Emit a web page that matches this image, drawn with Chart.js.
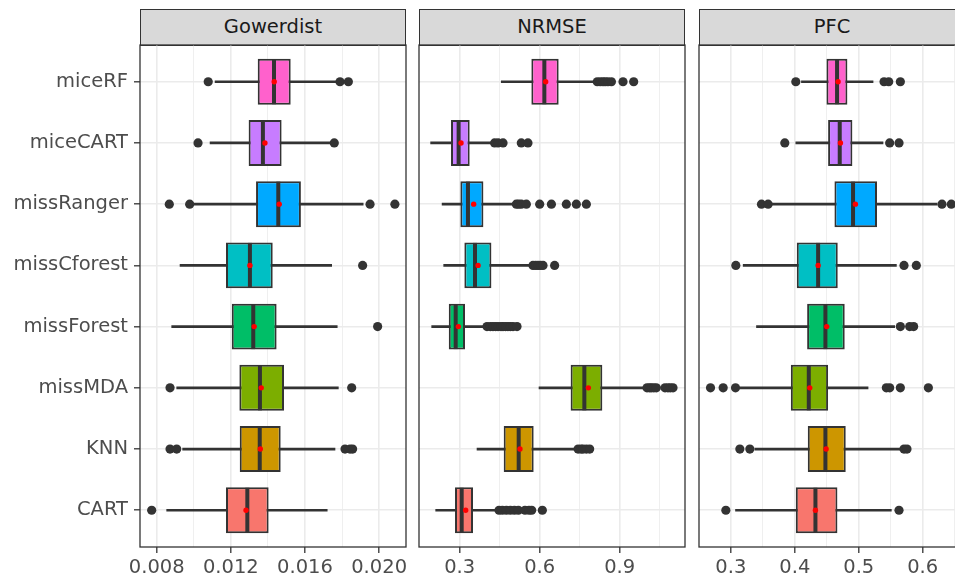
<!DOCTYPE html>
<html>
<head>
<meta charset="utf-8">
<script src="https://cdn.jsdelivr.net/npm/chart.js@4.4.0/dist/chart.umd.min.js"></script>
<style>
  html, body { margin: 0; padding: 0; width: 955px; height: 579px; overflow: hidden; background: #fff; }
  canvas { position: absolute; top: 0; }
  .strip { position: absolute; top: 9px; width: 266px; height: 37px; box-sizing: border-box;
           border: 1.3px solid #333; background: #d9d9d9; color: #1a1a1a;
           font: 19.5px "DejaVu Sans", sans-serif; text-align: center; line-height: 34px; }
</style>
</head>
<body>
<div class="strip" style="left:140px">Gowerdist</div>
<div class="strip" style="left:419px">NRMSE</div>
<div class="strip" style="left:699px">PFC</div>
<canvas id="c1" width="410" height="579" style="left:0px"></canvas>
<canvas id="c2" width="277" height="579" style="left:412px"></canvas>
<canvas id="c3" width="277" height="579" style="left:692px"></canvas>
<script>
// methods from bottom (1) to top (8)
var methods = ['CART', 'KNN', 'missMDA', 'missForest', 'missCforest', 'missRanger', 'miceCART', 'miceRF'];
var colors = ['#F8766D', '#CD9600', '#7CAE00', '#00BE67', '#00BFC4', '#00A9FF', '#C77CFF', '#FF61CC'];

// --- Gowerdist ---
var gowLo   = [0.00854, 0.00940, 0.00908, 0.00881, 0.00926, 0.00997, 0.01088, 0.01115];
var gowQ1   = [0.01174, 0.01248, 0.01246, 0.01205, 0.01174, 0.01336, 0.01296, 0.01345];
var gowMed  = [0.01289, 0.01356, 0.01357, 0.01321, 0.01303, 0.01456, 0.01373, 0.01433];
var gowQ3   = [0.01404, 0.01469, 0.01487, 0.01447, 0.01426, 0.01578, 0.01474, 0.01523];
var gowHi   = [0.01720, 0.01762, 0.01780, 0.01774, 0.01744, 0.01914, 0.01735, 0.01771];
var gowMean = [0.01282, 0.01359, 0.01364, 0.01326, 0.01303, 0.01461, 0.01384, 0.01434];
var gowOut  = [[0.00773], [0.00872, 0.00908, 0.01816, 0.01843, 0.01857], [0.00872, 0.01852], [0.01992],
               [0.01911], [0.00868, 0.00978, 0.01951, 0.02085], [0.01023, 0.01758], [0.01078, 0.01789, 0.01834]];
var gowTicks = [0.008, 0.012, 0.016, 0.020];
var gowTickLabels = ['0.008', '0.012', '0.016', '0.020'];
var gowMinor = [0.010, 0.014, 0.018];

// --- NRMSE ---
var nrLo   = [0.210, 0.365, 0.5975, 0.195, 0.240, 0.234, 0.191, 0.456];
var nrQ1   = [0.2825, 0.465, 0.716, 0.259, 0.3175, 0.3025, 0.2675, 0.56875];
var nrMed  = [0.3075, 0.52125, 0.7675, 0.285, 0.3575, 0.331, 0.296, 0.6175];
var nrQ3   = [0.350, 0.5775, 0.835, 0.320, 0.419, 0.389, 0.3375, 0.67125];
var nrHi   = [0.435, 0.7275, 0.9875, 0.394, 0.5625, 0.500, 0.419, 0.800];
var nrMean = [0.3225, 0.526, 0.7825, 0.295, 0.369, 0.3525, 0.305, 0.6225];
var nrOut  = [[0.4475, 0.46, 0.475, 0.49, 0.505, 0.52, 0.545, 0.56, 0.57, 0.61],
              [0.744, 0.755, 0.7625, 0.775, 0.7875],
              [1.0025, 1.012, 1.019, 1.028, 1.0375, 1.07, 1.081, 1.09, 1.10],
              [0.4025, 0.415, 0.425, 0.435, 0.444, 0.455, 0.4625, 0.472, 0.481, 0.49, 0.50, 0.515],
              [0.575, 0.585, 0.594, 0.603, 0.6125, 0.656],
              [0.5125, 0.521, 0.531, 0.55, 0.60, 0.644, 0.70, 0.7375, 0.775],
              [0.431, 0.444, 0.4625, 0.531, 0.556],
              [0.816, 0.8275, 0.8375, 0.846, 0.856, 0.869, 0.9125, 0.9525]];
var nrTicks = [0.3, 0.6, 0.9];
var nrTickLabels = ['0.3', '0.6', '0.9'];
var nrMinor = [0.45, 0.75, 1.05];

// --- PFC ---
var pfLo   = [0.3073, 0.3375, 0.3141, 0.3401, 0.3193, 0.3635, 0.4016, 0.4104];
var pfQ1   = [0.4016, 0.4203, 0.3938, 0.4193, 0.4031, 0.4620, 0.4521, 0.4495];
var pfMed  = [0.4323, 0.4479, 0.4219, 0.4479, 0.4365, 0.4911, 0.4703, 0.4661];
var pfQ3   = [0.4667, 0.4797, 0.4521, 0.4781, 0.4672, 0.5286, 0.4901, 0.4823];
var pfHi   = [0.5510, 0.5667, 0.5146, 0.5563, 0.5589, 0.6224, 0.5380, 0.5224];
var pfMean = [0.4323, 0.4490, 0.4234, 0.4500, 0.4365, 0.4948, 0.4714, 0.4677];
var pfOut  = [[0.2922, 0.563], [0.3141, 0.3297, 0.5708, 0.5755], [0.2682, 0.288, 0.3073, 0.5432, 0.5484, 0.5651, 0.6089],
              [0.5651, 0.5797, 0.5859], [0.3078, 0.5708, 0.5901], [0.3479, 0.3583, 0.6302, 0.6448],
              [0.3844, 0.5484, 0.563], [0.4016, 0.5396, 0.5469, 0.5651]];
var pfTicks = [0.3, 0.4, 0.5, 0.6];
var pfTickLabels = ['0.3', '0.4', '0.5', '0.6'];
var pfMinor = [0.35, 0.45, 0.55, 0.65];

Chart.defaults.font.family = '"DejaVu Sans", sans-serif';

// panel frame drawn over everything (ggplot panel.border)
var framePlugin = {
  id: 'frame',
  afterDraw: function(chart) {
    var a = chart.chartArea, ctx = chart.ctx;
    ctx.save();
    ctx.strokeStyle = '#333';
    ctx.lineWidth = 1.3;
    ctx.strokeRect(a.left, a.top, a.right - a.left, a.bottom - a.top);
    ctx.restore();
  }
};

function isMajor(v, ticks) {
  return ticks.some(function(t) { return Math.abs(t - v) < 1e-9; });
}

function makePanel(canvasId, p) {
  var toPts = function(arr) { return arr.map(function(v, i) { return { x: v, y: i + 1 }; }); };
  var outPts = [];
  p.out.forEach(function(list, i) { list.forEach(function(v) { outPts.push({ x: v, y: i + 1 }); }); });
  var allTicks = p.ticks.concat(p.minor).sort(function(a, b) { return a - b; });

  return new Chart(document.getElementById(canvasId), {
    type: 'bar',
    data: {
      datasets: [{
        type: 'scatter', label: 'outliers', data: outPts,
        pointRadius: 4.6, backgroundColor: '#333', borderWidth: 0, order: 5
      }, {
        type: 'bar', label: 'whiskers', grouped: false,
        data: p.lo.map(function(v, i) { return { y: i + 1, x: [v, p.hi[i]] }; }),
        backgroundColor: '#333', barThickness: 2, order: 4
      }, {
        type: 'bar', label: 'boxes', grouped: false,
        data: p.q1.map(function(v, i) { return { y: i + 1, x: [v, p.q3[i]] }; }),
        backgroundColor: colors, borderColor: '#333', borderWidth: 2, borderSkipped: false,
        barPercentage: 0.75, categoryPercentage: 1, order: 3
      }, {
        type: 'scatter', label: 'median', data: toPts(p.med),
        pointStyle: 'line', rotation: 90, pointRadius: 22.5, borderColor: '#333', borderWidth: 4, order: 2
      }, {
        type: 'scatter', label: 'mean', data: toPts(p.mean),
        pointRadius: 2.7, backgroundColor: '#ff0000', borderWidth: 0, order: 1
      }]
    },
    options: {
      indexAxis: 'y',
      responsive: false, animation: false, events: [],
      layout: { autoPadding: false, padding: { top: 45, right: 4, left: p.first ? 0 : 7, bottom: 0 } },
      plugins: { legend: { display: false }, tooltip: { enabled: false } },
      scales: {
        x: {
          type: 'linear', min: p.min, max: p.max, bounds: 'data', offset: false, beginAtZero: false,
          afterBuildTicks: function(s) { s.ticks = allTicks.map(function(v) { return { value: v }; }); },
          afterFit: function(s) { s.height = 32; s.paddingLeft = 0; s.paddingRight = 0; },
          border: { display: false },
          grid: {
            offset: false,
            color: '#ebebeb',
            lineWidth: function(c) { return c.tick && isMajor(c.tick.value, p.ticks) ? 1.6 : 0.8; },
            tickColor: function(c) { return c.tick && isMajor(c.tick.value, p.ticks) ? '#333' : 'rgba(0,0,0,0)'; },
            tickLength: 6, tickWidth: 1.3
          },
          ticks: {
            autoSkip: false, maxRotation: 0, minRotation: 0, padding: 3,
            color: '#4d4d4d', font: { size: 19.5 },
            callback: function(v) {
              for (var k = 0; k < p.ticks.length; k++) {
                if (Math.abs(p.ticks[k] - v) < 1e-9) return p.tickLabels[k];
              }
              return '';
            }
          }
        },
        y: {
          type: 'linear', min: 0.4, max: 8.6, offset: false,
          afterBuildTicks: function(s) { s.ticks = methods.map(function(m, i) { return { value: i + 1 }; }); },
          afterFit: function(s) { s.width = p.first ? 140 : 0; s.paddingTop = 0; s.paddingBottom = 0; },
          border: { display: false },
          grid: { color: '#ebebeb', lineWidth: 1.6, offset: false, drawTicks: p.first,
                  tickLength: 6, tickColor: '#333', tickWidth: 1.3 },
          ticks: {
            display: p.first, autoSkip: false, padding: 6,
            color: '#4d4d4d', font: { size: 19.5 },
            callback: function(v) { return methods[Math.round(v) - 1]; }
          }
        }
      }
    },
    plugins: [framePlugin]
  });
}

makePanel('c1', { first: true, min: 0.0071, max: 0.02145,
  lo: gowLo, q1: gowQ1, med: gowMed, q3: gowQ3, hi: gowHi, mean: gowMean, out: gowOut,
  ticks: gowTicks, tickLabels: gowTickLabels, minor: gowMinor });
makePanel('c2', { first: false, min: 0.1474, max: 1.145,
  lo: nrLo, q1: nrQ1, med: nrMed, q3: nrQ3, hi: nrHi, mean: nrMean, out: nrOut,
  ticks: nrTicks, tickLabels: nrTickLabels, minor: nrMinor });
makePanel('c3', { first: false, min: 0.2502, max: 0.6662,
  lo: pfLo, q1: pfQ1, med: pfMed, q3: pfQ3, hi: pfHi, mean: pfMean, out: pfOut,
  ticks: pfTicks, tickLabels: pfTickLabels, minor: pfMinor });
</script>
</body>
</html>
